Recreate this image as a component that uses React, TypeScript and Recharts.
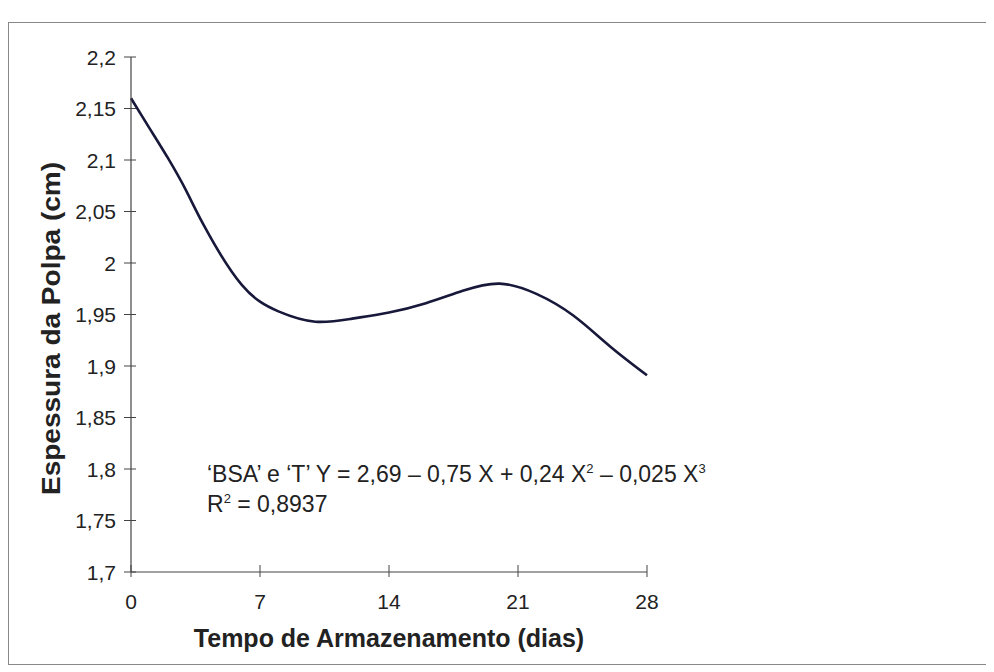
import { LineChart, Line, XAxis, YAxis, Label } from 'recharts'

// values
const days = [0, 1, 2, 3, 4, 6, 8, 10, 12, 14, 16, 18, 20, 22, 24, 26, 28]
const thickness = [2.16, 2.131, 2.102, 2.07, 2.035, 1.979, 1.953, 1.943, 1.946, 1.952, 1.961, 1.973, 1.98, 1.97, 1.949, 1.919, 1.891]

const xTicks = [0, 7, 14, 21, 28]
const yTicks = [1.7, 1.75, 1.8, 1.85, 1.9, 1.95, 2, 2.05, 2.1, 2.15, 2.2]
const yTickLabels = ['1,7', '1,75', '1,8', '1,85', '1,9', '1,95', '2', '2,05', '2,1', '2,15', '2,2']

const data = days.map((d, i) => ({ day: d, value: thickness[i] }))

const FONT = '"Liberation Sans", Arial, sans-serif'
const INK = '#222'

function YTick({ x, y, payload }: any) {
  const idx = yTicks.indexOf(payload.value)
  return (
    <g>
      <line x1={x - 7} x2={x + 5} y1={y} y2={y} stroke="#444" strokeWidth={1} />
      <text x={x - 15} y={y} textAnchor="end" dominantBaseline="central" fontSize={21} fill={INK} fontFamily={FONT}>
        {idx >= 0 ? yTickLabels[idx] : payload.value}
      </text>
    </g>
  )
}

function XTick({ x, y, payload }: any) {
  return (
    <g>
      <line x1={x} x2={x} y1={y - 7} y2={y + 5} stroke="#444" strokeWidth={1} />
      <text x={x} y={y + 29} textAnchor="middle" dominantBaseline="central" fontSize={21} fill={INK} fontFamily={FONT}>
        {payload.value}
      </text>
    </g>
  )
}

const supStyle = { fontSize: 13, position: 'relative' as const, top: -9, verticalAlign: 'baseline' }

export default function App() {
  return (
    <div
      style={{
        position: 'relative',
        marginTop: 14,
        width: 982,
        height: 643,
        border: '1px solid #888',
        boxSizing: 'border-box',
        background: '#fff',
      }}
    >
      <LineChart
        width={980}
        height={641}
        data={data}
        margin={{ top: 34, right: 342, left: 0, bottom: 0 }}
      >
        <XAxis
          dataKey="day"
          type="number"
          domain={[0, 28]}
          ticks={xTicks}
          height={92}
          tickSize={0}
          tickMargin={0}
          tick={<XTick />}
          axisLine={{ stroke: '#444', strokeWidth: 1.2 }}
        >
          <Label
            content={({ viewBox }: any) => (
              <text
                x={viewBox.x + viewBox.width / 2}
                y={viewBox.y + 66}
                textAnchor="middle"
                dominantBaseline="central"
                fontSize={25}
                fontWeight="bold"
                fill={INK}
                fontFamily={FONT}
              >
                Tempo de Armazenamento (dias)
              </text>
            )}
          />
        </XAxis>
        <YAxis
          type="number"
          domain={[1.7, 2.2]}
          ticks={yTicks}
          width={122}
          tickSize={0}
          tickMargin={0}
          tick={<YTick />}
          axisLine={{ stroke: '#444', strokeWidth: 1.2 }}
        >
          <Label
            content={({ viewBox }: any) => {
              const cx = viewBox.x + 42
              const cy = viewBox.y + viewBox.height / 2 + 14
              return (
                <text
                  x={cx}
                  y={cy}
                  transform={`rotate(-90, ${cx}, ${cy})`}
                  textAnchor="middle"
                  dominantBaseline="central"
                  fontSize={25}
                  fontWeight="bold"
                  fill={INK}
                  fontFamily={FONT}
                  textLength={333}
                  lengthAdjust="spacingAndGlyphs"
                >
                  Espessura da Polpa (cm)
                </text>
              )
            }}
          />
        </YAxis>
        <Line
          type="natural"
          dataKey="value"
          stroke="#17183a"
          strokeWidth={2.6}
          dot={false}
          isAnimationActive={false}
        />
      </LineChart>
      <div
        style={{
          position: 'absolute',
          left: 198,
          top: 438,
          fontFamily: FONT,
          fontSize: 23,
          color: INK,
          lineHeight: '26px',
          whiteSpace: 'nowrap',
        }}
      >
        <div>
          ‘BSA’ e ‘T’ Y = 2,69 – 0,75 X + 0,24 X<sup style={supStyle}>2</sup> – 0,025 X
          <sup style={supStyle}>3</sup>
        </div>
        <div>
          R<sup style={supStyle}>2</sup> = 0,8937
        </div>
      </div>
    </div>
  )
}
